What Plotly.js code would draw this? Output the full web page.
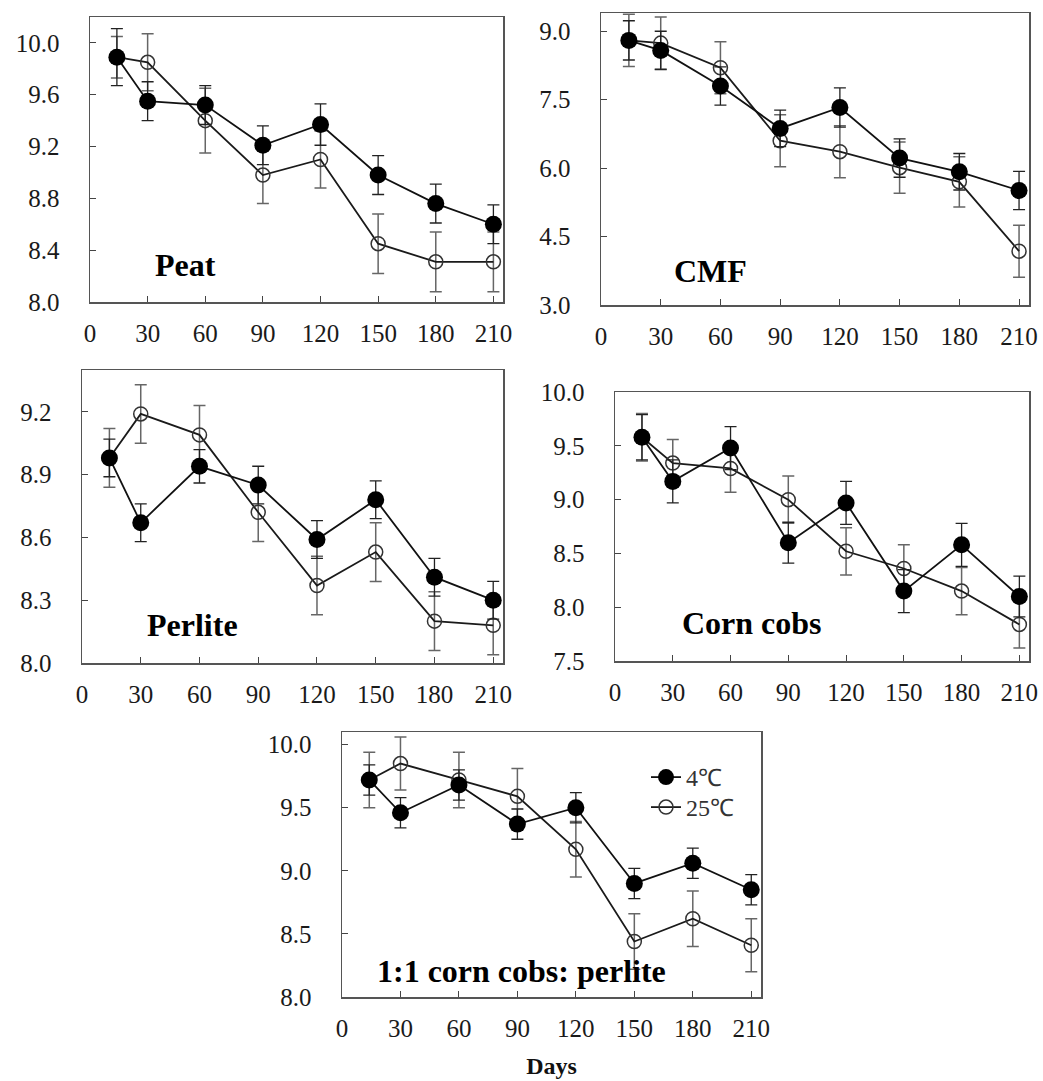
<!DOCTYPE html>
<html>
<head>
<meta charset="utf-8">
<script src="https://cdn.plot.ly/plotly-3.0.1.min.js"></script>
<style>html,body{margin:0;padding:0;background:#fff;}#chart{width:1043px;height:1081px;}</style>
</head>
<body>
<div id="chart"></div>
<script>
// ---- data ----
const days = [14, 30, 60, 90, 120, 150, 180, 210];
const xTickVals = [0, 30, 60, 90, 120, 150, 180, 210];

const peat4 = [9.89, 9.55, 9.52, 9.21, 9.37, 8.98, 8.76, 8.60];
const peat4Err = [0.22, 0.15, 0.15, 0.15, 0.16, 0.15, 0.15, 0.15];
const peat25 = [9.89, 9.85, 9.40, 8.98, 9.10, 8.45, 8.31, 8.31];
const peat25Err = [0.16, 0.22, 0.25, 0.22, 0.22, 0.23, 0.23, 0.23];

const cmf4 = [8.80, 8.58, 7.80, 6.87, 7.33, 6.22, 5.92, 5.51];
const cmf4Err = [0.43, 0.42, 0.42, 0.40, 0.43, 0.42, 0.40, 0.42];
const cmf25 = [8.80, 8.74, 8.20, 6.60, 6.36, 6.01, 5.70, 4.18];
const cmf25Err = [0.57, 0.57, 0.57, 0.57, 0.57, 0.56, 0.55, 0.57];

const perlite4 = [8.98, 8.67, 8.94, 8.85, 8.59, 8.78, 8.41, 8.30];
const perlite4Err = [0.09, 0.09, 0.08, 0.09, 0.09, 0.09, 0.09, 0.09];
const perlite25 = [8.98, 9.19, 9.09, 8.72, 8.37, 8.53, 8.20, 8.18];
const perlite25Err = [0.14, 0.14, 0.14, 0.14, 0.14, 0.14, 0.14, 0.14];

const corn4 = [9.58, 9.17, 9.48, 8.60, 8.97, 8.15, 8.58, 8.10];
const corn4Err = [0.21, 0.20, 0.20, 0.19, 0.20, 0.20, 0.20, 0.19];
const corn25 = [9.58, 9.34, 9.29, 9.00, 8.52, 8.36, 8.15, 7.84];
const corn25Err = [0.22, 0.22, 0.22, 0.22, 0.22, 0.22, 0.22, 0.22];

const mix4 = [9.72, 9.46, 9.68, 9.37, 9.50, 8.90, 9.06, 8.85];
const mix4Err = [0.12, 0.12, 0.12, 0.12, 0.12, 0.12, 0.12, 0.12];
const mix25 = [9.72, 9.85, 9.72, 9.59, 9.17, 8.44, 8.62, 8.41];
const mix25Err = [0.22, 0.21, 0.22, 0.22, 0.22, 0.22, 0.22, 0.21];

const panelNames = ["Peat", "CMF", "Perlite", "Corn cobs", "1:1 corn cobs: perlite"];
const seriesNames = ["4℃", "25℃"];
const xTitle = "Days";

// ---- layout geometry (pixels) ----
const W = 1043, H = 1081;
const panels = [
  {s4: peat4, e4: peat4Err, s25: peat25, e25: peat25Err, box: [90, 503, 17, 302], yr: [8, 10.2], dt: 0.4, t0: 8, lab: [185, 265]},
  {s4: cmf4, e4: cmf4Err, s25: cmf25, e25: cmf25Err, box: [601, 1029, 13, 305], yr: [3, 9.4], dt: 1.5, t0: 3, lab: [710, 271]},
  {s4: perlite4, e4: perlite4Err, s25: perlite25, e25: perlite25Err, box: [82, 503, 370, 663], yr: [8, 9.4], dt: 0.3, t0: 8, lab: [192, 625]},
  {s4: corn4, e4: corn4Err, s25: corn25, e25: corn25Err, box: [615, 1029, 392, 661], yr: [7.5, 10.001], dt: 0.5, t0: 7.5, lab: [752, 623]},
  {s4: mix4, e4: mix4Err, s25: mix25, e25: mix25Err, box: [342, 761, 732, 997], yr: [8, 10.1], dt: 0.5, t0: 8, lab: [521, 971]}
];

const FONT = 'Liberation Serif';
const legFont = {family: FONT, size: 24, color: '#333'};
const traces = [];
const layout = {
  width: W, height: H,
  margin: {l: 0, r: 0, t: 0, b: 0},
  paper_bgcolor: '#fff', plot_bgcolor: '#fff',
  font: {family: FONT, size: 24, color: '#1a1a1a'},
  showlegend: true,
  legend: {x: 646 / W, y: 1 - 755 / H, xanchor: 'left', yanchor: 'top', bgcolor: 'rgba(0,0,0,0)',
           font: legFont, itemwidth: 30},
  legend2: {x: 646 / W, y: 1 - 785 / H, xanchor: 'left', yanchor: 'top', bgcolor: 'rgba(0,0,0,0)',
           font: legFont, itemwidth: 30},
  annotations: []
};

panels.forEach((p, i) => {
  const n = i === 0 ? '' : String(i + 1);
  const xa = 'x' + n, ya = 'y' + n;
  const [x0, x1, yTop, yBot] = p.box;
  layout['xaxis' + n] = {
    domain: [x0 / W, x1 / W], range: [0, 215], anchor: ya,
    tickvals: xTickVals, ticktext: xTickVals.map(String),
    ticks: 'inside', ticklen: 6, tickcolor: '#444', tickwidth: 1,
    showline: true, linecolor: '#555', linewidth: 1.5, mirror: true,
    showgrid: false, zeroline: false, ticklabelstandoff: 8,
    tickfont: {family: FONT, size: 25, color: '#1a1a1a'},
    title: i === 4 ? {text: '<b>' + xTitle + '</b>', font: {family: FONT, size: 24, color: '#111'}, standoff: 16} : {text: ''}
  };
  layout['yaxis' + n] = {
    domain: [1 - yBot / H, 1 - yTop / H], range: p.yr, anchor: xa,
    tick0: p.t0, dtick: p.dt, tickformat: '.1f',
    ticks: 'inside', ticklen: 6, tickcolor: '#444', tickwidth: 1,
    showline: true, linecolor: '#555', linewidth: 1.5, mirror: true,
    showgrid: false, zeroline: false, ticklabelstandoff: 24,
    tickfont: {family: FONT, size: 25, color: '#1a1a1a'}
  };
  // 25 C (open) drawn first so filled markers sit on top
  traces.push({
    x: days, y: p.s25, xaxis: xa, yaxis: ya, type: 'scatter', mode: 'lines+markers',
    name: seriesNames[1], legend: 'legend2', showlegend: i === 4,
    line: {color: '#1a1a1a', width: 1.8},
    marker: {symbol: 'circle-open', size: 14, color: '#333', line: {width: 1.5, color: '#333'}},
    error_y: {type: 'data', array: p.e25, visible: true, color: '#666', thickness: 1.5, width: 6}
  });
  traces.push({
    x: days, y: p.s4, xaxis: xa, yaxis: ya, type: 'scatter', mode: 'lines+markers',
    name: seriesNames[0], legend: 'legend', showlegend: i === 4,
    line: {color: '#111', width: 1.8},
    marker: {symbol: 'circle', size: 17, color: '#000'},
    error_y: {type: 'data', array: p.e4, visible: true, color: '#222', thickness: 1.3, width: 6}
  });
  layout.annotations.push({
    text: '<b>' + panelNames[i] + '</b>', xref: 'paper', yref: 'paper',
    x: p.lab[0] / W, y: 1 - p.lab[1] / H, xanchor: 'center', yanchor: 'middle',
    showarrow: false, font: {family: FONT, size: 32, color: '#000'}
  });
});

Plotly.newPlot('chart', traces, layout, {staticPlot: true, displayModeBar: false});
</script>
</body>
</html>
